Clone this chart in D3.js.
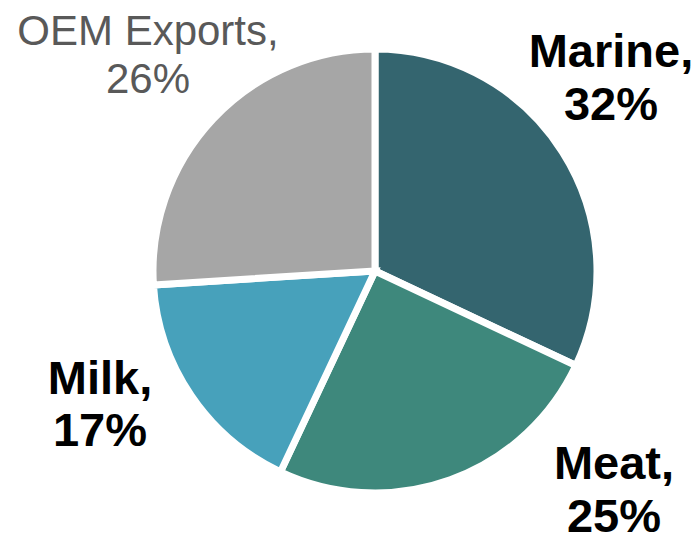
<!DOCTYPE html>
<html>
<head>
<meta charset="utf-8">
<script src="https://cdn.jsdelivr.net/npm/d3@7"></script>
<style>
  html, body { margin: 0; padding: 0; background: #ffffff; }
  svg { display: block; }
</style>
</head>
<body>
<svg id="chart" width="700" height="543"></svg>
<script>
// Export mix by segment (percent of total)
const categories = ["Marine", "Meat", "Milk", "OEM Exports"];
const shares = [32, 25, 17, 26];
const sliceColors = ["#34656f", "#3e887c", "#47a1bb", "#a6a6a6"];

// Label placement (label centre x, first-line baseline y) and styling
const labelLayout = [
  { x: 611, y: 67, size: 47, weight: "bold", fill: "#000000", lead: 53 },
  { x: 614, y: 479, size: 47, weight: "bold", fill: "#000000", lead: 53 },
  { x: 100, y: 394, size: 47, weight: "bold", fill: "#000000", lead: 52 },
  { x: 148, y: 45, size: 42, weight: "normal", fill: "#595959", lead: 48 }
];

const svg = d3.select("#chart");
const cx = 375, cy = 271, radius = 222;

const pie = d3.pie().sort(null).value(d => d.value);
const arc = d3.arc().innerRadius(0).outerRadius(radius);

const data = categories.map((c, i) => ({ name: c, value: shares[i], color: sliceColors[i] }));

const g = svg.append("g").attr("transform", `translate(${cx},${cy})`);

g.selectAll("path.slice")
  .data(pie(data))
  .join("path")
  .attr("class", "slice")
  .attr("d", arc)
  .attr("fill", d => d.data.color)
  .attr("stroke", "#ffffff")
  .attr("stroke-width", 7)
  .attr("stroke-linejoin", "miter");

const labels = svg.selectAll("text.label")
  .data(data)
  .join("text")
  .attr("class", "label")
  .attr("text-anchor", "middle")
  .attr("font-family", "'Liberation Sans', Arial, Helvetica, sans-serif")
  .attr("font-size", (d, i) => labelLayout[i].size)
  .attr("font-weight", (d, i) => labelLayout[i].weight)
  .attr("fill", (d, i) => labelLayout[i].fill);

labels.append("tspan")
  .attr("x", (d, i) => labelLayout[i].x)
  .attr("y", (d, i) => labelLayout[i].y)
  .text(d => d.name + ",");

labels.append("tspan")
  .attr("x", (d, i) => labelLayout[i].x)
  .attr("y", (d, i) => labelLayout[i].y + labelLayout[i].lead)
  .text(d => d.value + "%");
</script>
</body>
</html>
